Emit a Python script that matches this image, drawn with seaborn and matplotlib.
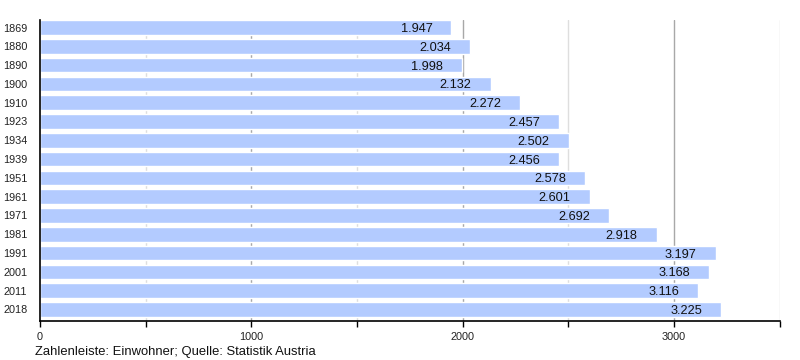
import matplotlib
matplotlib.use("Agg")
import matplotlib.pyplot as plt
from matplotlib.ticker import MultipleLocator
import seaborn as sns
import pandas as pd

years = ["1869", "1880", "1890", "1900", "1910", "1923", "1934", "1939",
         "1951", "1961", "1971", "1981", "1991", "2001", "2011", "2018"]
population = [1947, 2034, 1998, 2132, 2272, 2457, 2502, 2456,
              2578, 2601, 2692, 2918, 3197, 3168, 3116, 3225]
x_ticks = [0, 1000, 2000, 3000]
caption = "Zahlenleiste: Einwohner; Quelle: Statistik Austria"

df = pd.DataFrame({"Jahr": years, "Einwohner": population})

sns.set_style("white")
plt.rcParams["font.family"] = ["Liberation Sans", "DejaVu Sans"]

fig = plt.figure(figsize=(8, 3.6), dpi=100)
ax = fig.add_axes([40 / 800, 1 - 320.7 / 360, 739.6 / 800, 300.7 / 360])

sns.barplot(data=df, x="Einwohner", y="Jahr", orient="h", order=years,
            color="#b3cbff", saturation=1, width=0.78, ax=ax, zorder=2)

ax.set_xlim(0, 3500)
ax.set_ylim(15.6, -0.4)
ax.set_xticks(x_ticks)
ax.set_xticklabels([str(t) for t in x_ticks])
ax.xaxis.set_minor_locator(MultipleLocator(500))
ax.set_xlabel("")
ax.set_ylabel("")

# grid lines
for v in range(500, 3501, 500):
    col = "#a8a8a8" if v % 1000 == 0 else "#dedede"
    ax.axvline(v, color=col, lw=1, zorder=0)

for s in ["top", "right"]:
    ax.spines[s].set_visible(False)
for s in ["left", "bottom"]:
    ax.spines[s].set_visible(True)
    ax.spines[s].set_color("black")
    ax.spines[s].set_linewidth(1.2)
    ax.spines[s].set_zorder(5)

ax.tick_params(axis="x", which="both", bottom=True, length=4, width=1,
               color="black", labelsize=7.8, pad=4, labelcolor="#222222")
ax.tick_params(axis="y", which="both", left=False, labelsize=7.8, pad=5.5,
               labelcolor="#222222")

for i, v in enumerate(population):
    label = f"{v:,}".replace(",", ".")
    ax.annotate(label, xy=(v, i), xytext=(-19, 0), textcoords="offset pixels",
                ha="right", va="center_baseline", fontsize=9.2, color="#111111",
                zorder=4)

fig.text(35 / 800, 1 - 352 / 360, caption, fontsize=9.4, ha="left", va="center",
         color="#111111")

fig.savefig("out.png", dpi=100)
